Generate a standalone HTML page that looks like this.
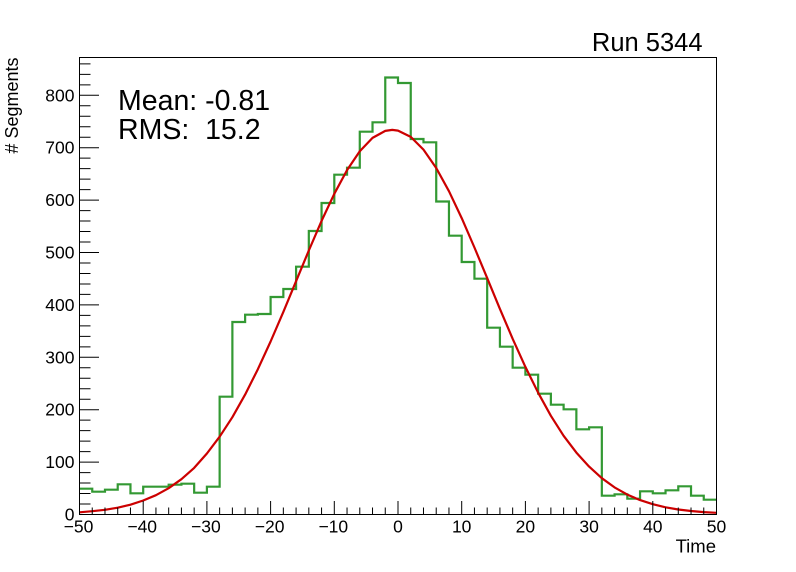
<!DOCTYPE html>
<html><head><meta charset="utf-8"><style>
html,body{margin:0;padding:0;background:#fff;}
svg{display:block;}
text{font-family:"Liberation Sans",Arial,sans-serif;fill:#000;}
</style></head><body>
<svg width="796" height="572" viewBox="0 0 796 572" xmlns="http://www.w3.org/2000/svg">
<rect x="0" y="0" width="796" height="572" fill="#fff"/>
<!-- histogram -->
<path fill="none" stroke="#339933" stroke-width="2.2" d="M79.5,488.7 H92.24 V491.7 H104.98 V489.7 H117.72 V484.3 H130.46 V493.3 H143.2 V486.7 H155.94 V486.7 H168.68 V484.7 H181.42 V483.7 H194.16 V492.7 H206.9 V486.7 H219.64 V396.7 H232.38 V322 H245.12 V314.7 H257.86 V314 H270.6 V297 H283.34 V289 H296.08 V266.7 H308.82 V231 H321.56 V203 H334.3 V174.7 H347.04 V167.7 H359.78 V131.7 H372.52 V122.3 H385.26 V77.5 H398 V83 H410.74 V139 H423.48 V142.3 H436.22 V201.5 H448.96 V235.7 H461.7 V262 H474.44 V278.7 H487.18 V327.7 H499.92 V346.7 H512.66 V367.7 H525.4 V374.7 H538.14 V393.7 H550.88 V404.7 H563.62 V409.3 H576.36 V429.3 H589.1 V427.3 H601.84 V495.7 H614.58 V494.3 H627.32 V498.7 H640.06 V491.3 H652.8 V493.3 H665.54 V490.3 H678.28 V486.3 H691.02 V495.7 H703.76 V499.7 H716.5"/>
<!-- fit curve -->
<polyline fill="none" stroke="#cc0000" stroke-width="2.2" stroke-linejoin="round" points="79.5,512.3 92.24,511.2 104.98,509.8 117.72,507.7 130.46,504.7 143.2,500.5 155.94,495.2 168.68,488.2 181.42,479.2 194.16,467.9 206.9,453.5 219.64,436.7 232.38,417.2 245.12,394.6 257.86,369.2 270.6,341.5 283.34,311.9 296.08,281.2 308.82,250.5 321.56,220.9 334.3,193.8 347.04,170.1 359.78,151.2 372.52,137.9 385.26,130.9 392.27,129.9 398,130.6 410.74,136.9 423.48,149.6 436.22,168 448.96,191.2 461.7,218.1 474.44,247.5 487.18,278.1 499.92,308.9 512.66,338.8 525.4,366.9 538.14,392.7 550.88,415.8 563.62,435.8 576.36,452.6 589.1,466.6 601.84,478.2 614.58,487.4 627.32,494.6 640.06,500.1 652.8,504.2 665.54,507.3 678.28,509.5 691.02,511 703.76,512.1 716.5,512.8"/>
<!-- frame -->
<rect x="79.5" y="57.5" width="637" height="457" fill="none" stroke="#000" stroke-width="1"/>
<!-- y ticks -->
<path stroke="#000" stroke-width="1" fill="none" d="
M79.5,514.5h19.5 M79.5,462.1h19.5 M79.5,409.7h19.5 M79.5,357.3h19.5 M79.5,304.9h19.5 M79.5,252.5h19.5 M79.5,200.1h19.5 M79.5,147.7h19.5 M79.5,95.3h19.5
M79.5,504.02h11 M79.5,493.54h11 M79.5,483.06h11 M79.5,472.58h11
M79.5,451.62h11 M79.5,441.14h11 M79.5,430.66h11 M79.5,420.18h11
M79.5,399.22h11 M79.5,388.74h11 M79.5,378.26h11 M79.5,367.78h11
M79.5,346.82h11 M79.5,336.34h11 M79.5,325.86h11 M79.5,315.38h11
M79.5,294.42h11 M79.5,283.94h11 M79.5,273.46h11 M79.5,262.98h11
M79.5,242.02h11 M79.5,231.54h11 M79.5,221.06h11 M79.5,210.58h11
M79.5,189.62h11 M79.5,179.14h11 M79.5,168.66h11 M79.5,158.18h11
M79.5,137.22h11 M79.5,126.74h11 M79.5,116.26h11 M79.5,105.78h11
M79.5,84.82h11 M79.5,74.34h11 M79.5,63.86h11"/>
<!-- x ticks -->
<path stroke="#000" stroke-width="1" fill="none" d="
M79.5,514.5v-13.5 M143.2,514.5v-13.5 M206.9,514.5v-13.5 M270.6,514.5v-13.5 M334.3,514.5v-13.5 M398,514.5v-13.5 M461.7,514.5v-13.5 M525.4,514.5v-13.5 M589.1,514.5v-13.5 M652.8,514.5v-13.5 M716.5,514.5v-13.5
M92.24,514.5v-7 M104.98,514.5v-7 M117.72,514.5v-7 M130.46,514.5v-7
M155.94,514.5v-7 M168.68,514.5v-7 M181.42,514.5v-7 M194.16,514.5v-7
M219.64,514.5v-7 M232.38,514.5v-7 M245.12,514.5v-7 M257.86,514.5v-7
M283.34,514.5v-7 M296.08,514.5v-7 M308.82,514.5v-7 M321.56,514.5v-7
M347.04,514.5v-7 M359.78,514.5v-7 M372.52,514.5v-7 M385.26,514.5v-7
M410.74,514.5v-7 M423.48,514.5v-7 M436.22,514.5v-7 M448.96,514.5v-7
M474.44,514.5v-7 M487.18,514.5v-7 M499.92,514.5v-7 M512.66,514.5v-7
M538.14,514.5v-7 M550.88,514.5v-7 M563.62,514.5v-7 M576.36,514.5v-7
M601.84,514.5v-7 M614.58,514.5v-7 M627.32,514.5v-7 M640.06,514.5v-7
M665.54,514.5v-7 M678.28,514.5v-7 M691.02,514.5v-7 M703.76,514.5v-7"/>
<!-- y labels -->
<g font-size="17.5" text-anchor="end">
<text x="74.5" y="520.5">0</text>
<text x="74.5" y="468.1">100</text>
<text x="74.5" y="415.7">200</text>
<text x="74.5" y="363.3">300</text>
<text x="74.5" y="310.9">400</text>
<text x="74.5" y="258.5">500</text>
<text x="74.5" y="206.1">600</text>
<text x="74.5" y="153.7">700</text>
<text x="74.5" y="101.3">800</text>
</g>
<!-- x labels -->
<g font-size="17.5" text-anchor="middle">
<text x="78.5" y="532.5">−50</text>
<text x="142.2" y="532.5">−40</text>
<text x="205.9" y="532.5">−30</text>
<text x="269.6" y="532.5">−20</text>
<text x="333.3" y="532.5">−10</text>
<text x="398" y="532.5">0</text>
<text x="461.7" y="532.5">10</text>
<text x="525.4" y="532.5">20</text>
<text x="589.1" y="532.5">30</text>
<text x="652.8" y="532.5">40</text>
<text x="716.5" y="532.5">50</text>
</g>
<!-- axis titles -->
<text x="716" y="552.5" font-size="18.5" text-anchor="end">Time</text>
<text transform="translate(18,57.5) rotate(-90)" font-size="18" text-anchor="end"># Segments</text>
<!-- title / stats -->
<text x="702.5" y="51" font-size="25.5" text-anchor="end">Run 5344</text>
<text x="118" y="110" font-size="28.5">Mean: -0.81</text>
<text x="118" y="139" font-size="28.5" xml:space="preserve">RMS:  15.2</text>
</svg>
</body></html>
